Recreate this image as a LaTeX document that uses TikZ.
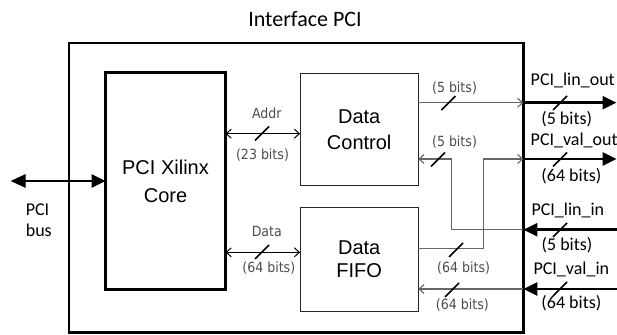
\documentclass[tikz,border=0pt]{standalone}
\usepackage{fontspec}
\setmainfont{Carlito}
\newfontfamily\boxfont{Liberation Sans}
\newfontfamily\smallfont{DejaVu Sans Condensed}
\usetikzlibrary{arrows.meta}
\begin{document}
\begin{tikzpicture}[x=1pt,y=-1pt,
  frame/.style={draw=black,line width=2.7pt,inner sep=0pt,outer sep=0pt,
    minimum width=454.5pt,minimum height=289.7pt},
  corebox/.style={draw=black,line width=2.7pt,inner sep=0pt,outer sep=0pt,
    minimum width=120pt,minimum height=216.6pt,align=center,
    font=\boxfont\fontsize{20}{28}\selectfont},
  subbox/.style={draw=black!85,line width=1pt,inner sep=0pt,outer sep=0pt,
    minimum width=118.2pt,align=center},
  thinblack/.style={draw=black,line width=1pt,
    arrows={Straight Barb[length=5pt,width=9pt]-Straight Barb[length=5pt,width=9pt]}},
  thingray/.style={draw=black!60,line width=1.1pt,-{Straight Barb[length=5pt,width=9pt]}},
  thickarrow/.style={draw=black,line width=2.6pt,-{Triangle[length=14pt,width=13pt]}},
  slashline/.style={draw=black,line width=1.6pt},
  smalllabel/.style={font=\smallfont\fontsize{14}{16}\selectfont,text=black!70,
    inner sep=0pt,anchor=base},
  sidelabel/.style={font=\fontsize{18}{20}\selectfont,text=black,inner sep=0pt},
]
\useasboundingbox (0,0) rectangle (617,334);

% title
\node[font=\fontsize{22}{24}\selectfont,inner sep=0pt,anchor=base] (title) at (305,26.7) {Interface PCI};

% boxes
\node[frame] (frame) at (296.15,187.85) {};
\node[corebox] (core) at (165.5,181) {PCI Xilinx\\Core};
\node[subbox,minimum height=112pt,font=\boxfont\fontsize{20}{26}\selectfont] (dc) at (359.2,129.3) {Data\\Control};
\node[subbox,minimum height=104pt,font=\boxfont\fontsize{20}{23.5}\selectfont] (fifo) at (359.2,259.3) {Data\\FIFO};

% helper coordinates
\coordinate (busL) at (10.5,181);
\coordinate (yAddr) at (0,133.7);
\coordinate (yData) at (0,252.3);
\coordinate (o1) at (616.5,102.7);
\coordinate (o2) at (616.5,159);
\coordinate (i1) at (616.5,229.7);
\coordinate (i2) at (616.5,289);
\coordinate (k1) at (451.4,229.7);
\coordinate (k2) at (483.3,248.3);

% PCI bus
\draw[thickarrow,{Triangle[length=15pt,width=13pt]}-{Triangle[length=14pt,width=13pt]}] (busL) -- (core.west |- busL);
\node[sidelabel,anchor=base west] (pcil) at (25.6,215) {PCI};
\node[sidelabel,anchor=base west] (busl) at (25.6,236.5) {bus};

% Addr / Data
\draw[thinblack] (core.east |- yAddr) -- (dc.west |- yAddr);
\draw[thinblack] (core.east |- yData) -- (fifo.west |- yData);
\node[smalllabel] (addrl) at (266.8,118.3) {Addr};
\node[smalllabel] (addrb) at (262.5,159.3) {(23 bits)};
\node[smalllabel] (datal) at (266.8,236) {Data};
\node[smalllabel] (datab) at (268.8,272.7) {(64 bits)};

% right side connections
\draw[thingray] (dc.east |- o1) -- (frame.east |- o1);
\draw[thickarrow] (frame.east |- o1) -- (o1);

\draw[thingray] (fifo.east |- k2) -- (k2) |- (frame.east |- o2);
\draw[thickarrow] (frame.east |- o2) -- (o2);

\draw[thickarrow] (i1) -- (frame.east |- i1);
\draw[thingray] (frame.east |- i1) -- (k1) |- (dc.east |- o2);

\draw[thickarrow] (i2) -- (frame.east |- i2);
\draw[thingray] (frame.east |- i2) -- (fifo.east |- i2);

% inner labels
\node[smalllabel] (b1) at (454.5,92.3) {(5 bits)};
\node[smalllabel] (b2) at (454.5,146.3) {(5 bits)};
\node[smalllabel] (b3) at (463.6,272) {(64 bits)};
\node[smalllabel] (b4) at (462.4,309.3) {(64 bits)};

% side labels
\node[sidelabel,anchor=base west] (s1) at (530.5,85) {PCI\_lin\_out};
\node[sidelabel,anchor=base] (s1b) at (566.7,124) {(5 bits)};
\node[sidelabel,anchor=base west] (s2) at (530.5,145) {PCI\_val\_out};
\node[sidelabel,anchor=base] (s2b) at (571.4,181.7) {(64 bits)};
\node[sidelabel,anchor=base west] (s3) at (531.3,215) {PCI\_lin\_in};
\node[sidelabel,anchor=base] (s3b) at (567,250.7) {(5 bits)};
\node[sidelabel,anchor=base west] (s4) at (533.3,274) {PCI\_val\_in};
\node[sidelabel,anchor=base] (s4b) at (571.4,308.3) {(64 bits)};

% bus-width slashes
\foreach \cx/\cy in {262/133.5, 262/252, 448.4/103, 438/159.5, 456/250, 452/290,
                     560/103, 560/159.5, 560/230, 560/289}
  \draw[slashline,shift={(\cx,\cy)}] (-7,7) -- (7,-7);
\end{tikzpicture}
\end{document}
